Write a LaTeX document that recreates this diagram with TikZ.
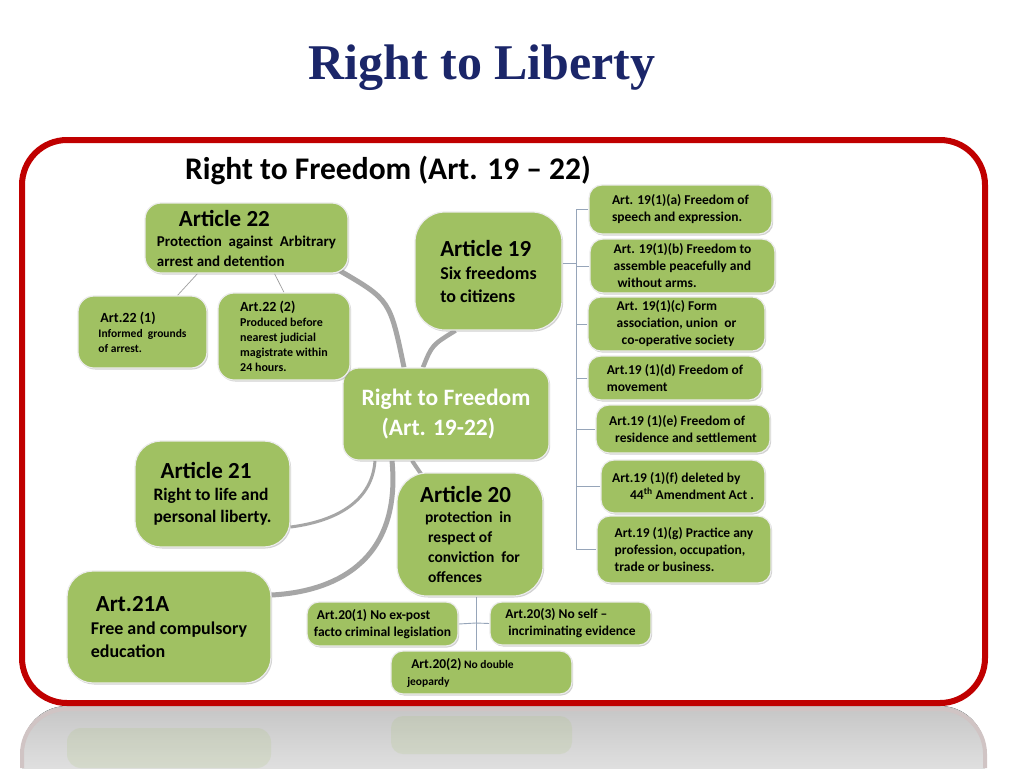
\documentclass[tikz,border=0pt]{standalone}
\usepackage{fontspec}
\setmainfont{Carlito}
\newfontfamily\titlefont{Liberation Serif}
\usetikzlibrary{shadows,backgrounds,calc}
\definecolor{leaf}{RGB}{160,193,98}
\definecolor{navy}{RGB}{27,38,105}
\definecolor{frame}{RGB}{192,0,0}
\definecolor{twigc}{RGB}{150,165,185}
\definecolor{trunkc}{RGB}{166,166,166}
\newcommand{\fsz}[2]{\fontsize{#1}{#2}\selectfont}

\begin{document}
\begin{tikzpicture}[
  x=1pt, y=-1pt,
  card/.style={draw=white!85!gray, line width=1.2pt, fill=leaf, rounded corners=16pt,
    align=left, inner sep=4pt, text=black,
    drop shadow={shadow xshift=1.2pt, shadow yshift=-1.5pt, fill=black!40, opacity=.45}},
  trunk/.style={draw=trunkc, line width=4.5pt},
  limb/.style={draw=gray!75, line width=0.7pt},
  twig/.style={draw=twigc, line width=0.9pt}
]
\useasboundingbox (0,0) rectangle (1024,768);

% Title
\node[font=\titlefont\bfseries\fsz{50}{56}, text=navy] (title) at (482,68) {Right to Liberty};
\node[font=\bfseries\fsz{31.5}{36}] (heading) at (388,170) {Right to Freedom (Art. 19 -- 22)};

% Central node and Article boxes
\node[card, minimum width=206pt, minimum height=92pt, text=white, font=\bfseries\fsz{23.5}{30}] (hub) at (446,414)
  {Right to Freedom\\ \hspace*{20pt}(Art. 19-22)};
\node[card, minimum width=203pt, minimum height=70pt, font=\bfseries\fsz{15}{20}] (a22) at (246.5,238)
  {{\hspace*{22pt}\fsz{23}{26}Article 22}\\ Protection\ \ against\ \ Arbitrary\\ arrest\ and\ detention};
\node[card, minimum width=129pt, minimum height=72pt, font=\bfseries\fsz{11.5}{15}] (a22one) at (142.5,332)
  {{\hspace*{2pt}\fsz{14}{16}Art.22 (1)}\\ Informed\ \ grounds\\ of arrest.};
\node[card, minimum width=132pt, minimum height=87pt, font=\bfseries\fsz{12}{15}] (a22two) at (284,336.5)
  {{\fsz{14}{16}Art.22 (2)}\\ Produced before\\ nearest judicial\\ magistrate within\\ 24 hours.};
\node[card, minimum width=147pt, minimum height=118pt, rounded corners=30pt, font=\bfseries\fsz{18}{23}] (a19) at (488.5,271)
  {{\fsz{23}{26}Article 19}\\ Six freedoms\\ to citizens};
\node[card, minimum width=155pt, minimum height=106pt, rounded corners=26pt, font=\bfseries\fsz{17.5}{22}] (a21) at (212.5,494)
  {{\hspace*{7pt}\fsz{23}{26}Article 21}\\ Right to life and\\ personal liberty.};
\node[card, minimum width=204pt, minimum height=112pt, rounded corners=26pt, font=\bfseries\fsz{18}{23}] (a21A) at (169,627)
  {{\hspace*{5pt}\fsz{23}{26}Art.21A}\\ Free and compulsory\\ education};
\node[card, minimum width=146pt, minimum height=123pt, rounded corners=30pt, font=\bfseries\fsz{15.5}{20}] (a20) at (470,534.5)
  {{\fsz{23}{26}Article 20}\\ \hspace*{5pt}protection\ \ in\\ \hspace*{8pt}respect of\\ \hspace*{8pt}conviction\ \ for\\ \hspace*{8pt}offences};
\node[card, minimum width=151pt, minimum height=44pt, rounded corners=12pt, font=\bfseries\fsz{13.5}{17}] (a20one) at (382.5,624)
  {\hspace*{3pt}Art.20(1) No ex-post\\ facto criminal legislation};
\node[card, minimum width=161pt, minimum height=43pt, rounded corners=12pt, font=\bfseries\fsz{13.5}{17}] (a20three) at (570.5,623.5)
  {Art.20(3) No self --\\ \hspace*{3pt}incriminating evidence};
\node[card, minimum width=181pt, minimum height=43pt, rounded corners=12pt, font=\bfseries\fsz{11.5}{17}] (a20two) at (481.5,672.5)
  {{\hspace*{4pt}\fsz{13.5}{16}Art.20(2)} No double\hspace*{42pt}\\ jeopardy};

% Article 19 sub-clauses
\tikzset{clause/.style={card, rounded corners=13pt, font=\bfseries\fsz{13.5}{17}}}
\node[clause, minimum width=183pt, minimum height=49pt] (sa) at (680.5,209.5)
  {Art. 19(1)(a) Freedom of\\ speech and expression.};
\node[clause, minimum width=185pt, minimum height=54pt] (sb) at (682.5,266)
  {Art. 19(1)(b) Freedom to\\ assemble peacefully and\\ \hspace*{4pt}without arms.};
\node[clause, minimum width=177pt, minimum height=54pt] (sc) at (676.5,324)
  {Art. 19(1)(c) Form\\ association, union\ \ or\\ \hspace*{5pt}co-operative society};
\node[clause, minimum width=174pt, minimum height=44pt] (sd) at (675,378)
  {Art.19 (1)(d) Freedom of\\ movement};
\node[clause, minimum width=174pt, minimum height=48pt] (se) at (683,429)
  {Art.19 (1)(e) Freedom of\\ \hspace*{6pt}residence and settlement};
\node[clause, minimum width=164pt, minimum height=53pt] (sf) at (683,486.5)
  {Art.19 (1)(f) deleted by\\ \hspace*{18pt}44\textsuperscript{th} Amendment Act .};
\node[clause, minimum width=174pt, minimum height=67pt] (sg) at (684,549.5)
  {Art.19 (1)(g) Practice any\\ profession, occupation,\\ trade or business.};

\begin{scope}[on background layer]
  % slide, frame and its reflection
  \fill[white] (0,0) rectangle (1024,768);
  \fill[top color=gray!45, bottom color=gray!25, rounded corners=45pt]
    (22,768) -- (22,706) -- (985,706) -- (985,768);
  \draw[frame!15!gray!40, line width=4pt, rounded corners=45pt] (22,768) -- (22,709) -- (985,709) -- (985,768);
  \fill[leaf, opacity=.15, rounded corners=14pt] (67,728) rectangle (271,768);
  \fill[leaf, opacity=.15, rounded corners=12pt] (391,716) rectangle (572,754);
  \draw[frame, line width=6pt, rounded corners=45pt, fill=white,
    drop shadow={shadow xshift=1pt, shadow yshift=-2pt, fill=black!30, opacity=.3}] (22,140) rectangle (985,703);

  % curved branches from the centre
  \draw[trunk, line width=5pt] ([xshift=-9pt, yshift=3pt]a22.south east) .. controls (390,300) .. ([xshift=-42pt]hub.north);
  \draw[trunk] ([xshift=-33pt]a19.south) .. controls (432,345) .. ([xshift=-23pt]hub.north);
  \draw[trunk, line width=3pt] ([xshift=-71pt]hub.south) .. controls (372,505) and (330,522) .. ([yshift=-33pt]a21.east);
  \draw[trunk, line width=5pt] ([xshift=-54pt]hub.south) .. controls (402,565) and (330,592) .. ([yshift=32pt]a21A.east);
  \draw[trunk, line width=4pt] ([xshift=-34pt]hub.south) -- ([xshift=-46pt, yshift=-6pt]a20.north);

  % Article 22 sub-clauses
  \draw[limb] ([xshift=-49pt]a22.south) -- ([xshift=35pt]a22one.north);
  \draw[limb] ([xshift=28pt]a22.south) -- (a22two.north);

  % Article 20 sub-clauses
  \coordinate (stem) at (476,623);
  \draw[twig] ([xshift=6pt]a20.south) -- ([xshift=-5.5pt]a20two.north);
  \draw[twig] (a20one.east) -- (stem) -- (a20three.west);

  % Article 19 bracket
  \path (sa.west) ++(-12pt,0) coordinate (spinetop);
  \draw[twig] (sa.west) -- (spinetop) |- (sg.west);
  \foreach \c in {sb,sc,sd,se,sf}
    \draw[twig] (\c.west) -- (\c.west -| spinetop);
  \draw[twig] ([yshift=8pt]a19.east) -- ([yshift=8pt]a19.east -| spinetop);
\end{scope}
\end{tikzpicture}
\end{document}
